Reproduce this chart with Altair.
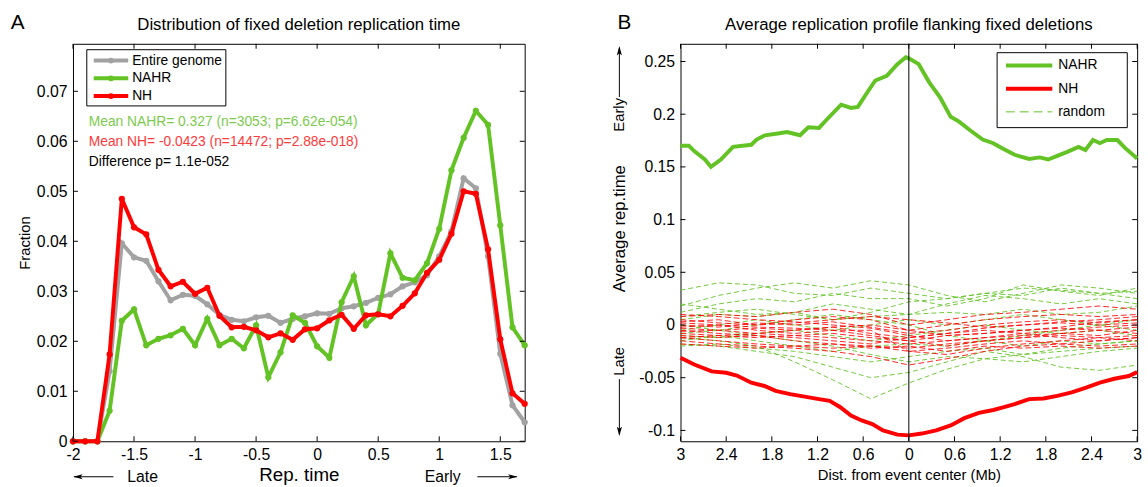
import altair as alt
import pandas as pd

FONT = "Liberation Sans"
GREEN = "#63C325"
GREEN_TXT = "#7CCB4E"
RED = "#FF0000"
RED_TXT = "#FF3A3A"
GRAY = "#A2A2A2"

# ---------------- Panel A data ----------------
rep_time = [-2.0, -1.9, -1.8, -1.7, -1.6, -1.5, -1.4, -1.3, -1.2, -1.1, -1.0, -0.9, -0.8,
            -0.7, -0.6, -0.5, -0.4, -0.3, -0.2, -0.1, 0.0, 0.1, 0.2, 0.3, 0.4, 0.5, 0.6,
            0.7, 0.8, 0.9, 1.0, 1.1, 1.2, 1.3, 1.4, 1.5, 1.6, 1.7]
frac_genome = [0, 0, 0, 0.014, 0.0396, 0.0368, 0.0361, 0.032, 0.0282, 0.0293, 0.0291, 0.0274,
               0.0253, 0.0243, 0.024, 0.0248, 0.0251, 0.0237, 0.0245, 0.025, 0.0256, 0.0255,
               0.0266, 0.027, 0.0277, 0.0287, 0.0294, 0.031, 0.0318, 0.0332, 0.037, 0.042,
               0.0526, 0.0506, 0.037, 0.0175, 0.0072, 0.0038]
frac_nahr = [0, 0, 0, 0.0061, 0.0241, 0.0264, 0.0192, 0.0205, 0.0212, 0.0225, 0.0192, 0.0245,
             0.0192, 0.0205, 0.0186, 0.0232, 0.0128, 0.0178, 0.0252, 0.0237, 0.019, 0.0167,
             0.0278, 0.033, 0.0232, 0.0255, 0.0376, 0.0327, 0.0322, 0.0356, 0.0425, 0.0542,
             0.0607, 0.0661, 0.0633, 0.0432, 0.0228, 0.0192]
frac_nh = [0, 0, 0, 0.0174, 0.0485, 0.0428, 0.0414, 0.0343, 0.031, 0.0319, 0.0295, 0.0307,
           0.0251, 0.0228, 0.0229, 0.0222, 0.0208, 0.0216, 0.0203, 0.0224, 0.0226, 0.0242,
           0.0253, 0.0225, 0.0252, 0.0254, 0.025, 0.0271, 0.0296, 0.0337, 0.0363, 0.0415,
           0.05, 0.0495, 0.0384, 0.0204, 0.0096, 0.0075]
a_series = ["Entire genome", "NAHR", "NH"]
a_colors = [GRAY, GREEN, RED]
a_xticks = [-2, -1.5, -1, -0.5, 0, 0.5, 1, 1.5]
a_yticks = [0, 0.01, 0.02, 0.03, 0.04, 0.05, 0.06, 0.07]
a_title = "Distribution of fixed deletion replication time"
a_notes = ["Mean NAHR= 0.327 (n=3053; p=6.62e-054)",
           "Mean NH= -0.0423 (n=14472; p=2.88e-018)",
           "Difference p= 1.1e-052"]
a_note_colors = [GREEN_TXT, RED_TXT, "black"]

# ---------------- Panel B data ----------------
nahr_x = [-3, -2.89, -2.82, -2.68, -2.6, -2.47, -2.31, -2.07, -2.0, -1.89, -1.7, -1.6, -1.43,
          -1.32, -1.18, -1.09, -0.89, -0.76, -0.67, -0.53, -0.44, -0.29, -0.15, -0.04, 0,
          0.13, 0.27, 0.41, 0.55, 0.66, 0.8, 0.97, 1.11, 1.22, 1.39, 1.58, 1.72, 1.83, 1.95,
          2.09, 2.23, 2.32, 2.42, 2.51, 2.6, 2.74, 2.84, 3.0]
nahr_y = [0.17, 0.17, 0.165, 0.157, 0.15, 0.157, 0.169, 0.171, 0.176, 0.18, 0.182, 0.183, 0.18,
          0.1875, 0.187, 0.194, 0.209, 0.206, 0.207, 0.2225, 0.232, 0.2365, 0.2475, 0.254, 0.253,
          0.2475, 0.23, 0.216, 0.1975, 0.193, 0.185, 0.176, 0.1725, 0.168, 0.1615, 0.1575, 0.159,
          0.157, 0.1605, 0.1645, 0.169, 0.166, 0.1755, 0.1725, 0.1755, 0.1755, 0.168, 0.158]
nh_x = [-3, -2.82, -2.59, -2.4, -2.26, -2.07, -1.89, -1.75, -1.56, -1.37, -1.18, -1.04, -0.9,
        -0.76, -0.62, -0.48, -0.34, -0.15, 0, 0.17, 0.36, 0.55, 0.73, 0.92, 1.11, 1.25, 1.39,
        1.58, 1.77, 1.95, 2.14, 2.33, 2.51, 2.7, 2.89, 3.0]
nh_y = [-0.031, -0.0375, -0.044, -0.0453, -0.048, -0.0547, -0.058, -0.0625, -0.0656, -0.068,
        -0.0703, -0.072, -0.078, -0.086, -0.0906, -0.094, -0.1, -0.104, -0.1047, -0.103, -0.1,
        -0.0953, -0.0884, -0.0834, -0.0806, -0.078, -0.075, -0.0703, -0.0697, -0.0672, -0.064,
        -0.0594, -0.0547, -0.051, -0.0484, -0.0447]
rand_x = [-3, -2.5, -2, -1.5, -1, -0.5, 0, 0.5, 1, 1.5, 2, 2.5, 3]
rand_green = [
    [0.033, 0.040, 0.038, 0.030, 0.028, 0.035, 0.030, 0.025, 0.030, 0.035, 0.033, 0.030, 0.032],
    [0.018, 0.028, 0.035, 0.040, 0.035, 0.042, 0.038, 0.028, 0.022, 0.030, 0.038, 0.035, 0.030],
    [0.012, 0.020, 0.025, 0.022, 0.030, 0.025, 0.025, 0.018, 0.025, 0.038, 0.032, 0.028, 0.035],
    [0.020, 0.015, 0.010, 0.012, 0.020, 0.015, 0.010, 0.020, 0.028, 0.025, 0.020, 0.025, 0.020],
    [0.005, 0.010, 0.008, 0.012, 0.005, 0.008, 0.010, 0.012, 0.010, 0.015, 0.010, 0.012, 0.018],
    [-0.005, 0.000, 0.005, 0.000, -0.005, 0.000, 0.005, 0.000, 0.005, 0.010, 0.005, 0.000, 0.005],
    [-0.010, -0.012, -0.008, -0.005, -0.010, -0.015, -0.010, -0.005, 0.000, -0.005, -0.008, -0.005, -0.010],
    [-0.015, -0.010, -0.015, -0.020, -0.025, -0.020, -0.018, -0.020, -0.015, -0.020, -0.015, -0.018, -0.015],
    [-0.020, -0.018, -0.022, -0.025, -0.030, -0.035, -0.030, -0.025, -0.022, -0.028, -0.025, -0.022, -0.020],
    [-0.012, -0.015, -0.020, -0.035, -0.052, -0.070, -0.055, -0.042, -0.032, -0.028, -0.022, -0.018, -0.015],
    [-0.018, -0.020, -0.025, -0.030, -0.040, -0.050, -0.045, -0.035, -0.025, -0.030, -0.040, -0.043, -0.038],
    [0.008, 0.012, 0.015, 0.010, 0.005, 0.012, 0.022, 0.025, 0.030, 0.028, 0.035, 0.030, 0.025],
    [0.000, -0.005, 0.000, 0.005, 0.010, 0.005, 0.000, -0.010, -0.015, -0.010, -0.005, 0.000, -0.005],
    [-0.008, -0.005, -0.010, -0.015, -0.020, -0.028, -0.035, -0.030, -0.032, -0.035, -0.030, -0.025, -0.022],
]
rand_red = [
    [0.008, 0.010, 0.008, 0.012, 0.015, 0.010, 0.000, 0.005, 0.010, 0.012, 0.015, 0.018, 0.015],
    [0.003, 0.005, 0.000, 0.005, 0.008, 0.005, -0.005, 0.000, 0.005, 0.008, 0.010, 0.008, 0.010],
    [0.000, -0.002, 0.002, 0.000, 0.003, -0.002, -0.008, -0.005, 0.000, 0.003, 0.005, 0.002, 0.005],
    [-0.003, -0.005, -0.003, -0.005, -0.002, -0.008, -0.012, -0.008, -0.003, 0.000, 0.002, 0.000, 0.002],
    [-0.006, -0.005, -0.008, -0.010, -0.008, -0.012, -0.015, -0.010, -0.008, -0.005, -0.003, -0.005, -0.002],
    [-0.008, -0.010, -0.012, -0.010, -0.012, -0.015, -0.018, -0.015, -0.012, -0.010, -0.008, -0.005, -0.008],
    [-0.010, -0.012, -0.010, -0.015, -0.018, -0.020, -0.022, -0.018, -0.015, -0.012, -0.010, -0.012, -0.010],
    [-0.012, -0.015, -0.018, -0.020, -0.022, -0.020, -0.025, -0.022, -0.018, -0.015, -0.018, -0.015, -0.012],
    [-0.015, -0.018, -0.020, -0.022, -0.025, -0.030, -0.038, -0.032, -0.025, -0.020, -0.018, -0.020, -0.018],
    [-0.018, -0.020, -0.022, -0.020, -0.018, -0.022, -0.020, -0.025, -0.020, -0.022, -0.020, -0.022, -0.020],
    [0.005, 0.002, 0.000, 0.002, 0.005, 0.008, 0.005, 0.002, -0.002, 0.000, 0.003, 0.005, 0.008],
    [-0.002, 0.000, -0.005, -0.008, -0.005, -0.010, -0.015, -0.020, -0.015, -0.012, -0.008, -0.010, -0.005],
    [0.010, 0.008, 0.005, 0.003, 0.000, -0.003, -0.010, -0.015, -0.012, -0.008, -0.005, -0.002, 0.000],
    [-0.005, -0.008, -0.010, -0.012, -0.015, -0.018, -0.012, -0.008, -0.005, -0.008, -0.012, -0.015, -0.012],
    [0.002, 0.000, -0.002, -0.003, -0.005, -0.005, -0.025, -0.028, -0.022, -0.018, -0.015, -0.012, -0.015],
    [-0.012, -0.010, -0.008, -0.005, -0.002, 0.000, -0.005, -0.010, -0.008, -0.005, -0.002, 0.003, 0.005],
]
b_xticks = [-3, -2.4, -1.8, -1.2, -0.6, 0, 0.6, 1.2, 1.8, 2.4, 3]
b_yticks = [-0.1, -0.05, 0, 0.05, 0.1, 0.15, 0.2, 0.25]
b_series = ["NAHR", "NH", "random"]
b_title = "Average replication profile flanking fixed deletions"

one = pd.DataFrame({"k": [0]})
VEE_LEFT = "M-1,0L1,-0.55L0.55,0L1,0.55Z"
VEE_RIGHT = "M1,0L-1,-0.55L-0.55,0L-1,0.55Z"
VEE_UP = "M0,-1L-0.55,1L0,0.55L0.55,1Z"
VEE_DOWN = "M0,1L-0.55,-1L0,-0.55L0.55,-1Z"


def axis_common(**kw):
    return alt.Axis(ticks=False, domain=False, grid=False, labelFontSize=16,
                    labelFlush=False, labelOverlap=False, labelFont=FONT,
                    titleFont=FONT, titleFontWeight="normal", labelColor="black",
                    titleColor="black", **kw)


def inner_ticks(xt, yt, xenc, yenc, W, H, L=5):
    dx = pd.DataFrame({"x": xt})
    dy = pd.DataFrame({"y": yt})
    return [
        alt.Chart(dx).mark_rule(color="black", strokeWidth=1).encode(x=xenc, y=alt.value(H), y2=alt.value(H - L)),
        alt.Chart(dx).mark_rule(color="black", strokeWidth=1).encode(x=xenc, y=alt.value(0), y2=alt.value(L)),
        alt.Chart(dy).mark_rule(color="black", strokeWidth=1).encode(y=yenc, x=alt.value(0), x2=alt.value(L)),
        alt.Chart(dy).mark_rule(color="black", strokeWidth=1).encode(y=yenc, x=alt.value(W), x2=alt.value(W - L)),
    ]


def label(text, x, y, size=14, color="black", align="left", angle=None, baseline="middle"):
    kw = dict(font=FONT, fontSize=size, color=color, align=align, baseline=baseline)
    if angle is not None:
        kw["angle"] = angle
    return alt.Chart(one).mark_text(**kw).encode(x=alt.value(x), y=alt.value(y), text=alt.value(text))


def arrow(x1, y1, x2, y2, head, hx, hy):
    line = alt.Chart(one).mark_rule(color="black", strokeWidth=1).encode(
        x=alt.value(x1), x2=alt.value(x2), y=alt.value(y1), y2=alt.value(y2))
    tip = alt.Chart(one).mark_point(shape=head, filled=True, color="black", size=90, opacity=1).encode(
        x=alt.value(hx), y=alt.value(hy))
    return [line, tip]


# ---------------- Panel A ----------------
WA, HA = 458, 403
xA = alt.X("x:Q", scale=alt.Scale(domain=[-2, 1.7], nice=False, zero=False),
           axis=axis_common(values=a_xticks, labelExpr="'' + datum.value", labelPadding=5,
                            title="Rep. time", titleFontSize=19, titlePadding=4))
yA = alt.Y("y:Q", scale=alt.Scale(domain=[0, 0.0795], nice=False),
           axis=axis_common(values=a_yticks, labelExpr="'' + datum.value", labelPadding=6,
                            title="Fraction", titleFontSize=15, titlePadding=4))

layersA = []
for name, vals, col in zip(a_series, [frac_genome, frac_nahr, frac_nh], a_colors):
    df = pd.DataFrame({"x": rep_time, "y": vals})
    layersA.append(alt.Chart(df).mark_line(
        color=col, strokeWidth=4,
        point=alt.OverlayMarkDef(filled=True, color=col, size=40, opacity=1)).encode(x=xA, y=yA))
layersA += inner_ticks(a_xticks, a_yticks, xA, yA, WA, HA)

# legend A
layersA.append(alt.Chart(one).mark_rect(fill="white", stroke="black", strokeWidth=1).encode(
    x=alt.value(14), x2=alt.value(155), y=alt.value(6), y2=alt.value(63)))
for i, (name, col) in enumerate(zip(a_series, a_colors)):
    yy = 17 + 18 * i
    layersA.append(alt.Chart(one).mark_rule(color=col, strokeWidth=4).encode(
        x=alt.value(21), x2=alt.value(56), y=alt.value(yy)))
    layersA.append(alt.Chart(one).mark_point(filled=True, color=col, size=35, opacity=1).encode(
        x=alt.value(38.5), y=alt.value(yy)))
    layersA.append(label(name, 60, yy, size=14))
for i, (t, c) in enumerate(zip(a_notes, a_note_colors)):
    layersA.append(label(t, 16, 79 + 20.5 * i, size=14, color=c))
# Late / Early arrows under the axis
layersA += arrow(1, HA + 36, 41, HA + 36, VEE_LEFT, 5, HA + 36)
layersA.append(label("Late", 55, HA + 36, size=16))
layersA.append(label("Early", 393, HA + 36, size=16, align="right"))
layersA += arrow(410, HA + 36, 450, HA + 36, VEE_RIGHT, 446, HA + 36)
layersA.append(label("A", -56, -21, size=21, align="center"))
layersA.append(label(a_title, WA / 2, -19, size=17, align="center"))

panelA = alt.layer(*layersA).properties(width=WA, height=HA)

# ---------------- Panel B ----------------
WB, HB = 463, 403
xB = alt.X("x:Q", scale=alt.Scale(domain=[-3, 3], nice=False, zero=False),
           axis=axis_common(values=b_xticks, labelExpr="'' + abs(datum.value)", labelPadding=5,
                            title="Dist. from event center (Mb)", titleFontSize=15, titlePadding=6))
yB = alt.Y("y:Q", scale=alt.Scale(domain=[-0.1103, 0.2668], nice=False, zero=False),
           axis=axis_common(values=b_yticks, labelExpr="'' + datum.value", labelPadding=6,
                            title="Average rep.time", titleFontSize=17, titleX=-62, titleY=187,
                            titleAngle=270, titleAlign="center", titleBaseline="middle"))

rows_g = []
for k, vals in enumerate(rand_green):
    for xv, yv in zip(rand_x, vals):
        rows_g.append({"x": xv, "y": yv, "run": k})
rows_r = []
for k, vals in enumerate(rand_red):
    for xv, yv in zip(rand_x, vals):
        rows_r.append({"x": xv, "y": yv, "run": k})

layersB = [
    alt.Chart(pd.DataFrame(rows_g)).mark_line(color=GREEN, strokeWidth=1, strokeDash=[5, 3], opacity=0.9).encode(
        x=xB, y=yB, detail="run:N"),
    alt.Chart(pd.DataFrame(rows_r)).mark_line(color=RED, strokeWidth=1, strokeDash=[6, 3], opacity=0.85).encode(
        x=xB, y=yB, detail="run:N"),
    alt.Chart(pd.DataFrame({"x": nahr_x, "y": nahr_y})).mark_line(color=GREEN, strokeWidth=4).encode(x=xB, y=yB),
    alt.Chart(pd.DataFrame({"x": nh_x, "y": nh_y})).mark_line(color=RED, strokeWidth=4).encode(x=xB, y=yB),
    alt.Chart(pd.DataFrame({"x": [0]})).mark_rule(color="black", strokeWidth=1).encode(x=xB),
]
layersB += inner_ticks(b_xticks, b_yticks, xB, yB, WB, HB)

# legend B
layersB.append(alt.Chart(one).mark_rect(fill="white", stroke="black", strokeWidth=1).encode(
    x=alt.value(321), x2=alt.value(453), y=alt.value(9), y2=alt.value(85)))
for i, (name, col) in enumerate(zip(b_series, [GREEN, RED, GREEN])):
    yy = 22 + 23.5 * i
    if name == "random":
        mk = alt.Chart(one).mark_rule(color=col, strokeWidth=1, strokeDash=[9, 5])
    else:
        mk = alt.Chart(one).mark_rule(color=col, strokeWidth=4)
    layersB.append(mk.encode(x=alt.value(330), x2=alt.value(377), y=alt.value(yy)))
    layersB.append(label(name, 383, yy, size=14))

layersB.append(label("Early", -62, 72, size=15, align="center", angle=270))
layersB += arrow(-62, 4, -62, 54, VEE_UP, -62, 7)
layersB.append(label("Late", -62, 322, size=15, align="center", angle=270))
layersB += arrow(-62, 340, -62, 396, VEE_DOWN, -62, 393)
layersB.append(label("B", -57, -21, size=21, align="center"))
layersB.append(label(b_title, WB / 2, -19, size=17, align="center"))

panelB = alt.layer(*layersB).properties(width=WB, height=HB)

chart = alt.hconcat(panelA, panelB, spacing=77).properties(
    padding={"left": 10, "top": 8, "right": 2, "bottom": 0}
).configure_view(stroke="black", strokeWidth=1)

chart.save("out.html", embed_options={"renderer": "svg", "actions": False})
